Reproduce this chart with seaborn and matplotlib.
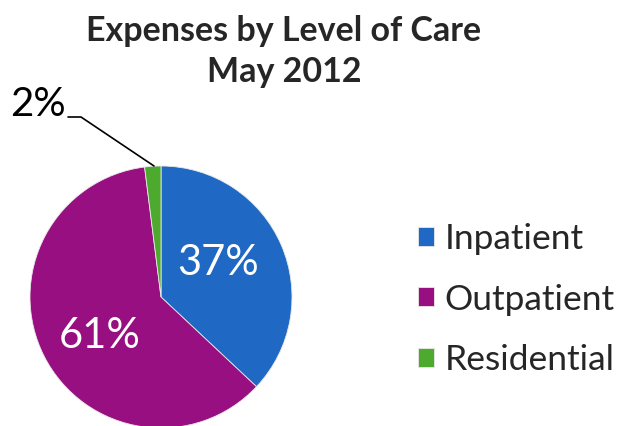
import matplotlib
matplotlib.use("Agg")
import matplotlib.pyplot as plt
import seaborn as sns

# Expense shares by level of care, May 2012
categories = ["Inpatient", "Outpatient", "Residential"]
shares = [37, 61, 2]
pct_labels = ["37%", "61%", "2%"]
colors = ["#1F68C4", "#970F80", "#4DAA2E"]

sns.set_style("white")
plt.rcParams["font.family"] = ["Lato", "DejaVu Sans"]

W, H = 621, 426
fig = plt.figure(figsize=(W / 100, H / 100), dpi=100)
ax = fig.add_axes([0, 0, 1, 1])

# pie in pixel-like data units (y grows upward)
cx, cy, r = 161, H - 297, 131
wedges, _ = ax.pie(
    shares, colors=colors, startangle=90, counterclock=False,
    center=(cx, cy), radius=r,
    wedgeprops=dict(linewidth=0.6, edgecolor="#e8e8e8"),
)
ax.set_xlim(0, W)
ax.set_ylim(0, H)
ax.set_aspect("equal")
ax.axis("off")

# in-slice labels
ax.text(218, H - 263, pct_labels[0], color="white", fontsize=30,
        ha="center", va="center")
ax.text(100, H - 336, pct_labels[1], color="white", fontsize=30,
        ha="center", va="center")

# outside label with leader line for the small slice
ax.text(38, H - 104, pct_labels[2], color="black", fontsize=29,
        ha="center", va="center")
ax.plot([68, 81, 154], [H - 117, H - 117, H - 166], color="black", lw=1.2)

# title
fig.text(284 / W, 1 - 31 / H, "Expenses by Level of Care", fontsize=24.5,
         fontweight="bold", ha="center", va="center")
fig.text(284 / W, 1 - 72 / H, "May 2012", fontsize=24.5,
         fontweight="bold", ha="center", va="center")

# legend
leg = ax.legend(wedges, categories, loc="upper left",
                bbox_to_anchor=(404 / W, 1 - 209 / H), frameon=False,
                fontsize=25.5, handlelength=0.45, handleheight=0.45,
                handletextpad=0.3, labelspacing=0.8, borderaxespad=0)

fig.savefig("out.png", dpi=100)
